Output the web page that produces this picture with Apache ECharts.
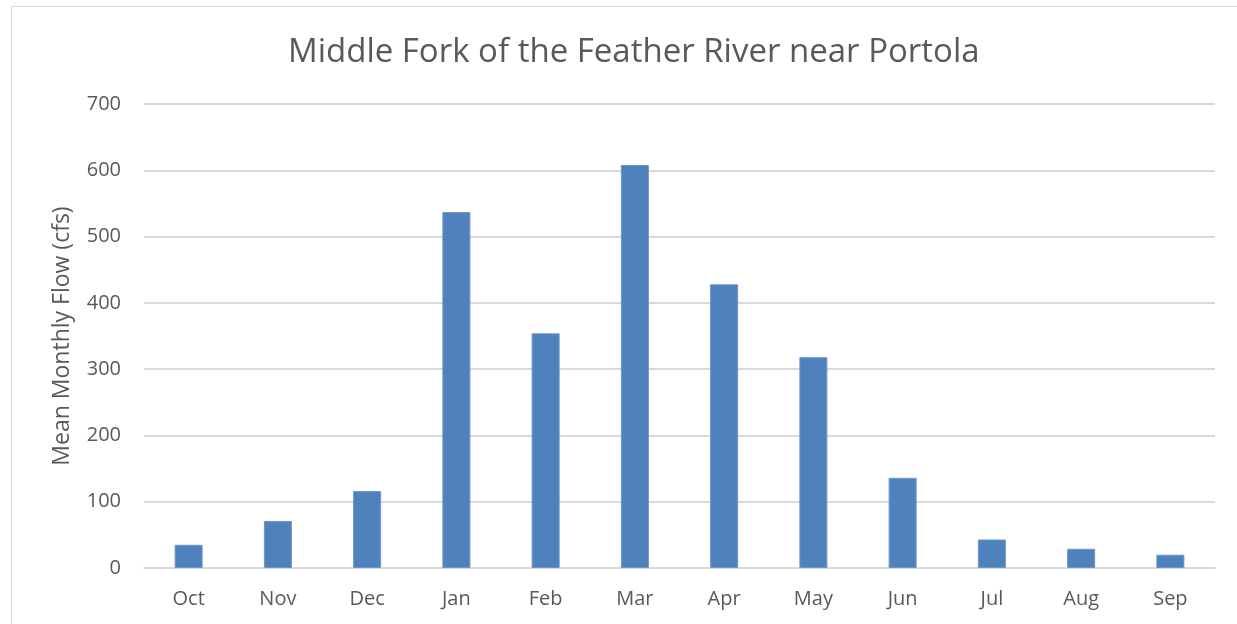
<!DOCTYPE html>
<html>
<head>
    <meta charset="utf-8">
    <title>ECharts</title>
    <script src="https://cdn.jsdelivr.net/npm/echarts@6/dist/echarts.min.js"></script>
    <style>
        html, body { margin: 0; padding: 0; background: #fff; }
    </style>
</head>
<body>
    <div id="main" style="width: 1237px;height:624px;"></div>
    <script type="text/javascript">
        var months = ['Oct', 'Nov', 'Dec', 'Jan', 'Feb', 'Mar', 'Apr', 'May', 'Jun', 'Jul', 'Aug', 'Sep'];
        var flows = [35, 71, 116, 537, 354, 608, 428, 318, 136, 43, 29, 20];
        var yTicks = [0, 100, 200, 300, 400, 500, 600, 700];

        var font = '"Open Sans", sans-serif';
        var grey = '#595959';

        var option = {
            animation: false,
            title: {
                text: 'Middle Fork of the Feather River near Portola',
                left: 283,
                top: 31,
                textStyle: {
                    fontFamily: font,
                    fontSize: 33,
                    fontWeight: 'normal',
                    color: grey
                }
            },
            graphic: [
                {
                    type: 'polyline',
                    shape: { points: [[11.5, 624], [11.5, 6.5], [1237, 6.5]] },
                    style: { stroke: '#d9d9d9', lineWidth: 1, fill: null }
                }
            ],
            grid: {
                left: 144,
                right: 22,
                top: 104,
                bottom: 56
            },
            xAxis: {
                type: 'category',
                data: months,
                axisLine: { lineStyle: { color: '#d9d9d9', width: 2 } },
                axisTick: { show: false },
                axisLabel: {
                    fontFamily: font,
                    fontSize: 20,
                    color: grey,
                    margin: 21
                }
            },
            yAxis: {
                type: 'value',
                min: yTicks[0],
                max: yTicks[yTicks.length - 1],
                interval: 100,
                name: 'Mean Monthly Flow (cfs)',
                nameLocation: 'middle',
                nameGap: 70,
                nameTextStyle: {
                    fontFamily: font,
                    fontSize: 23,
                    color: grey
                },
                axisLine: { show: false },
                axisTick: { show: false },
                splitLine: { lineStyle: { color: '#d9d9d9', width: 2 } },
                axisLabel: {
                    fontFamily: font,
                    fontSize: 20,
                    color: grey,
                    margin: 23
                }
            },
            series: [{
                type: 'bar',
                data: flows,
                barWidth: 28,
                itemStyle: {
                    color: '#4F81BD',
                    borderColor: '#6b96cb',
                    borderWidth: 1
                }
            }]
        };

        var myChart = echarts.init(document.getElementById('main'));
        myChart.setOption(option);
    </script>
</body>
</html>
